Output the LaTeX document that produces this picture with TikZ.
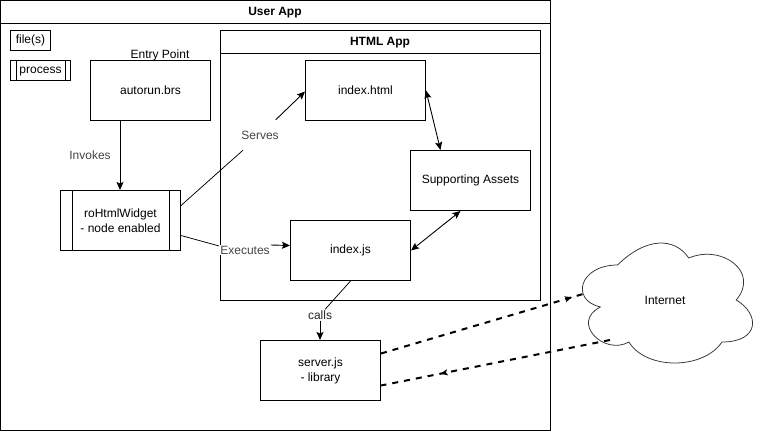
\documentclass[tikz,border=0pt]{standalone}
\usepackage{fontspec}
\setmainfont{Liberation Sans}
\usetikzlibrary{arrows.meta,decorations.markings}
\definecolor{lbl}{HTML}{444444}
\tikzset{
  box/.style={draw=black,line width=1pt,fill=white,minimum width=120pt,minimum height=60pt,align=center,inner sep=0pt,font=\fontsize{12}{15}\selectfont},
  title/.style={font=\fontsize{12}{14}\selectfont\bfseries,inner sep=0pt},
  plain/.style={font=\fontsize{12}{14}\selectfont,inner sep=0pt},
  elabel/.style={font=\fontsize{12}{14}\selectfont,text=lbl,fill=white,inner sep=1pt},
  conn/.style={line width=0.9pt,-{Stealth[length=8pt,width=7pt,inset=1.5pt]}},
  dbl/.style={line width=0.9pt,{Stealth[length=8pt,width=7pt,inset=1.5pt]}-{Stealth[length=8pt,width=7pt,inset=1.5pt]}},
  wire/.style={line width=0.75pt},
  net/.style={line width=2pt,dash pattern=on 6pt off 6pt,postaction={decorate}},
}
\begin{document}
\begin{tikzpicture}[x=1pt,y=-1pt]
\useasboundingbox (0,0) rectangle (762,431);
\fill[white] (0,0) rectangle (762,431);
% User App
\node[box,minimum width=550pt,minimum height=430pt,anchor=north west] (user) at (0,0) {};
\coordinate (userL) at (0,23);
\coordinate (userR) at (550,23);
\draw[line width=1pt] (userL) -- (userR);
\node[title] (usert) at (275,13) {User App};
% HTML App
\node[box,minimum width=320pt,minimum height=270pt,anchor=north west] (html) at (220,30) {};
\coordinate (htmlL) at (220,53);
\coordinate (htmlR) at (540,53);
\draw[line width=1pt] (htmlL) -- (htmlR);
\node[title] (htmlt) at (380,42.5) {HTML App};
% legend
\node[box,minimum width=40pt,minimum height=20pt,anchor=north west] (file) at (10,30) {file(s)};
\node[box,minimum width=60pt,minimum height=20pt,anchor=north west,text height=8.5pt,text depth=2.5pt] (proc) at (10,60) {process};
\draw[line width=1pt] ([xshift=6pt]proc.north west) -- ([xshift=6pt]proc.south west);
\draw[line width=1pt] ([xshift=-6pt]proc.north east) -- ([xshift=-6pt]proc.south east);
% main boxes
\node[box,anchor=north west] (auto) at (90,60) {autorun.brs};
\node[plain] (entry) at (160,55) {Entry Point};
\node[box,anchor=north west] (ihtml) at (305,60) {index.html};
\node[box,anchor=north west] (assets) at (410,150) {Supporting Assets};
\node[box,anchor=north west] (ijs) at (290,220) {index.js};
\node[box,anchor=north west] (ro) at (60,190) {roHtmlWidget\\- node enabled};
\draw[line width=1pt] ([xshift=12pt]ro.north west) -- ([xshift=12pt]ro.south west);
\draw[line width=1pt] ([xshift=-12pt]ro.north east) -- ([xshift=-12pt]ro.south east);
\node[box,anchor=north west] (srv) at (260,340) {server.js\\- library};
% cloud
\begin{scope}[shift={(570,230)},x=1.9pt,y=-1.4pt]
\draw[line width=0.75pt,fill=white,draw=black!80]
 (25,25) .. controls (5,25) and (0,50) .. (16,55)
 .. controls (0,66) and (18,90) .. (31,80)
 .. controls (40,100) and (70,100) .. (80,80)
 .. controls (100,80) and (100,60) .. (87.5,50)
 .. controls (100,30) and (80,10) .. (62.5,20)
 .. controls (55,5) and (40,5) .. (25,25) -- cycle;
\end{scope}
\node[plain] (inet) at (665,300) {Internet};
% connectors
\draw[conn] (auto.south -| 120,0) -- (ro.north -| 120,0);
\node[elabel] (inv) at (90,155) {Invokes};
\node[elabel,minimum height=30pt,minimum width=44pt] (srvs) at (260,135) {Serves};
\coordinate (roA) at ([yshift=15pt]ro.east);
\coordinate (roB) at ([yshift=-15pt]ro.east);
\node[elabel] (exec) at (245,250) {Executes};
\coordinate (ijA) at ([yshift=5pt]ijs.west);
\draw[wire] (roA) -- (srvs);
\draw[conn] (srvs) -- ([yshift=-1pt]ihtml.west);
\draw[wire] (roB) -- ([yshift=4pt]exec.west);
\draw[conn] ([yshift=5pt]exec.east) -- (ijA);
\draw[dbl] (ihtml.east) -- ([xshift=-30pt]assets.north);
\draw[dbl] (ijs.east) -- ([xshift=-10pt]assets.south);
\node[elabel,text=black!85] (calls) at (320,315) {calls};
\draw[wire] (ijs.south) -- (calls);
\draw[conn] (calls) -- (calls |- srv.north);
% internet links
\coordinate (cloudA) at (583,294);
\coordinate (cloudB) at (610,340);
\coordinate (srvA) at ([yshift=17pt]srv.east);
\coordinate (srvB) at ([yshift=-15pt]srv.east);
\draw[net,decoration={markings,mark=at position 0.945 with {\arrow{Stealth[length=7pt,width=6pt,inset=1.5pt]}}}] (srvA) -- (cloudA);
\draw[net,decoration={markings,mark=at position 0.74 with {\arrow{Stealth[length=7pt,width=6pt,inset=1.5pt]}}}] (cloudB) -- (srvB);
\end{tikzpicture}
\end{document}
